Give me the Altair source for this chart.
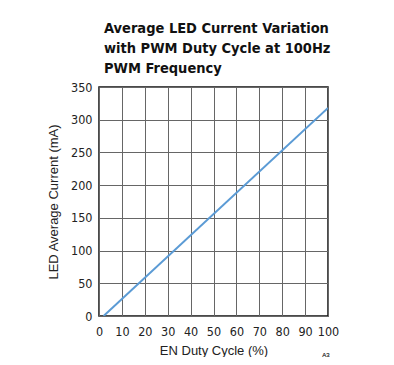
import altair as alt
import pandas as pd

duty = [2, 100]
current = [0, 318]
x_ticks = [0, 10, 20, 30, 40, 50, 60, 70, 80, 90, 100]
y_ticks = [0, 50, 100, 150, 200, 250, 300, 350]
title_lines = ["Average LED Current Variation", "with PWM Duty Cycle at 100Hz", "PWM Frequency"]

df = pd.DataFrame({"duty": duty, "current": current})

base = alt.Chart(df)

line = base.mark_line(color="#5b9bd5", strokeWidth=2, clip=True).encode(
    x=alt.X("duty:Q", scale=alt.Scale(domain=[0, 100], nice=False),
            axis=alt.Axis(values=x_ticks, title="EN Duty Cycle (%)", grid=True,
                          ticks=False, domain=False, labelPadding=9,
                          labelOverlap=False, labelFlush=False, labelFontSize=12.5,
                          titlePadding=7)),
    y=alt.Y("current:Q", scale=alt.Scale(domain=[0, 350], nice=False),
            axis=alt.Axis(values=y_ticks, title="LED Average  Current (mA)", grid=True,
                          ticks=False, domain=False, labelPadding=7,
                          labelOverlap=False, labelFlush=False, labelFontSize=12.5,
                          titlePadding=10)),
)

note = base.mark_text(fontSize=6, color="#444", font="Liberation Sans").encode(
    x=alt.value(227), y=alt.value(268), text=alt.value("A3")
)

chart = alt.layer(line, note).properties(
    width=229,
    height=229,
    autosize=alt.AutoSizeParams(type="none"),
    padding={"left": 91, "top": 79, "right": 58, "bottom": 41},
    title=alt.TitleParams(
        text=title_lines,
        anchor="start",
        frame="group",
        dx=5,
        offset=5,
        font="'Liberation Sans Narrow', 'DejaVu Sans Condensed', sans-serif",
        fontSize=14.5,
        fontWeight="bold",
        lineHeight=20,
        color="#111",
    ),
).configure_view(
    stroke="#111", strokeWidth=1.5
).configure_axis(
    gridColor="#666",
    gridWidth=1,
    gridOpacity=1,
    labelFont="'Liberation Sans Narrow', 'DejaVu Sans Condensed', sans-serif",
    labelColor="#222",
    titleFont="Liberation Sans",
    titleFontSize=13,
    titleFontWeight="normal",
    titleColor="#222",
)

chart.save("out.html", embed_options={"renderer": "svg", "actions": False})
